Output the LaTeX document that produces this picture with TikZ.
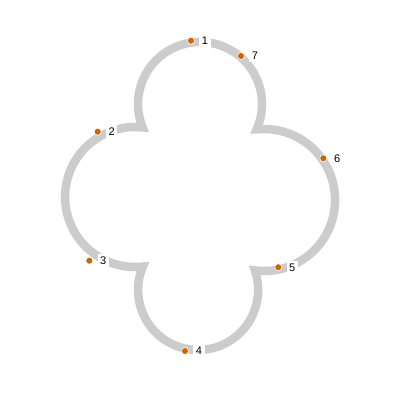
\documentclass[tikz,border=0pt]{standalone}
\usepackage{fontspec}
\setmainfont{Liberation Sans}
\definecolor{dotorange}{RGB}{204,102,0}
\begin{document}
\begin{tikzpicture}[x=1pt,y=1pt,
  outline/.style={draw=gray!40, line width=8.5pt, miter limit=20},
  pt/.style={circle, fill=dotorange, draw=white, line width=0.6pt, inner sep=0pt, minimum size=7pt},
  lab/.style={fill=white, inner sep=2.6pt, font=\fontsize{11}{13}\selectfont}]
\useasboundingbox (0,0) rectangle (400,400);
\draw[outline] (256.6,270.6)
  arc[start angle=-24.2, end angle=202.2, radius=62]
  arc[start angle=83.8, end angle=276.4, radius=70]
  arc[start angle=157, end angle=379.07, radius=60]
  arc[start angle=262.5, end angle=456, radius=71] -- cycle;
\node[pt] (p1) at (191,359.3) {};
\node[pt] (p2) at (97.7,268.3) {};
\node[pt] (p3) at (89.3,139.3) {};
\node[pt] (p4) at (185,49) {};
\node[pt] (p5) at (278.3,132.7) {};
\node[pt] (p6) at (323.3,241.7) {};
\node[pt] (p7) at (241,344) {};
\node[lab] (l1) at ([xshift=14pt]p1.center) {1};
\node[lab] (l2) at ([xshift=14pt]p2.center) {2};
\node[lab] (l3) at ([xshift=14pt]p3.center) {3};
\node[lab] (l4) at ([xshift=14pt]p4.center) {4};
\node[lab] (l5) at ([xshift=14pt]p5.center) {5};
\node[lab] (l6) at ([xshift=14pt]p6.center) {6};
\node[lab] (l7) at ([xshift=14pt]p7.center) {7};
\end{tikzpicture}
\end{document}
